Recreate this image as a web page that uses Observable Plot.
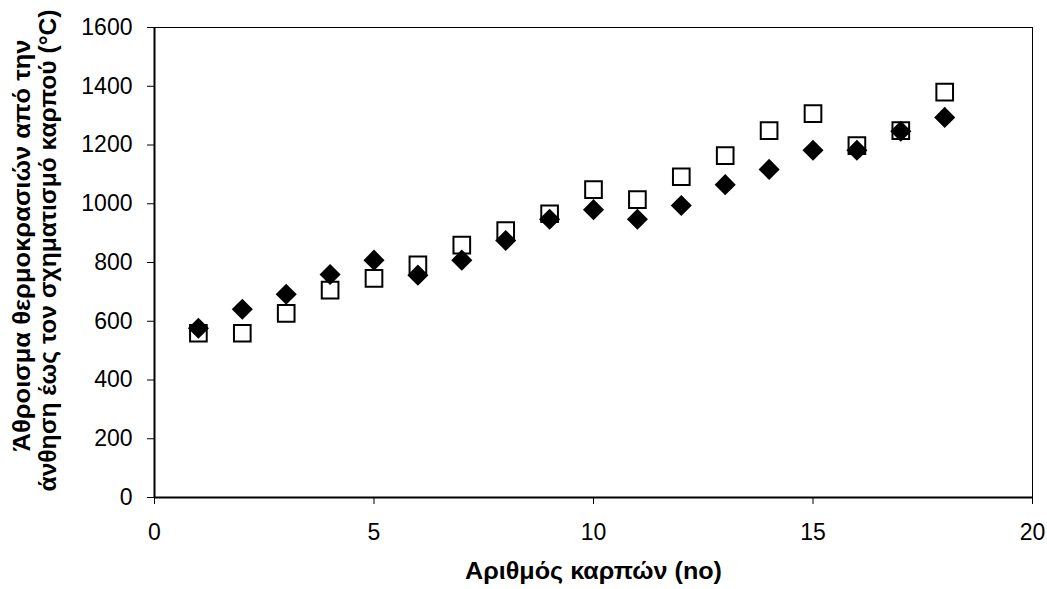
<!DOCTYPE html>
<html><head><meta charset="utf-8">
<script src="https://cdn.jsdelivr.net/npm/d3@7"></script>
<script src="https://cdn.jsdelivr.net/npm/@observablehq/plot@0.6"></script>
<style>body{margin:0;background:#fff} #chart svg{font-family:"Liberation Sans",Arial,sans-serif}</style>
</head><body><div id="chart"></div>
<script>
const fruitNo = [1,2,3,4,5,6,7,8,9,10,11,12,13,14,15,16,17,18];
const seriesSquares = [559,559,627,706,746,792,859,909,966,1048,1014,1092,1164,1249,1307,1198,1249,1380];
const seriesDiamonds = [576,641,692,759,808,757,808,875,947,980,947,994,1065,1117,1182,1182,1247,1294];
const xTicks = [0,5,10,15,20];
const yTicks = [0,200,400,600,800,1000,1200,1400,1600];
const xTitle = "Αριθμός καρπών (no)";
const yTitle1 = "Άθροισμα θερμοκρασιών από την";
const yTitle2 = "άνθηση έως τον σχηματισμό καρπού (°C)";

const squares = fruitNo.map((n, i) => ({n, v: seriesSquares[i]}));
const diamonds = fruitNo.map((n, i) => ({n, v: seriesDiamonds[i]}));

const chart = Plot.plot({
  width: 1047, height: 589,
  marginLeft: 154, marginRight: 15, marginTop: 27, marginBottom: 92,
  style: "font-family: 'Liberation Sans', Arial, sans-serif; font-size: 23px; background: white; color: black;",
  x: {domain: [0, 20]},
  y: {domain: [0, 1600]},
  marks: [
    Plot.frame({stroke: "black", strokeWidth: 1}),
    Plot.axisX({ticks: xTicks, tickFormat: d => String(d), tickSize: 7, tickPadding: 19, label: null, fontSize: 23}),
    Plot.axisY({ticks: yTicks, tickFormat: d => String(d), tickSize: 7, tickPadding: 15, label: null, fontSize: 23}),
    Plot.ruleX([0], {stroke: "black", strokeWidth: 2}),
    Plot.ruleY([0], {stroke: "black", strokeWidth: 2}),
    Plot.dot(squares, {x: "n", y: "v", symbol: "square", r: 9.4, stroke: "black", strokeWidth: 2, fill: "none"}),
    Plot.dot(diamonds, {x: "n", y: "v", symbol: "diamond2", r: 9.5, fill: "black", stroke: "none"}),
    Plot.text([yTitle1], {frameAnchor: "left", textAnchor: "middle", dx: -132, dy: -17, rotate: -90, fontWeight: "bold", fontSize: 24, className: "ytitle1"}),
    Plot.text([yTitle2], {frameAnchor: "left", textAnchor: "middle", dx: -106, dy: -12, rotate: -90, fontWeight: "bold", fontSize: 24, className: "ytitle2"}),
    Plot.text([xTitle], {frameAnchor: "bottom", textAnchor: "middle", dy: 81, fontWeight: "bold", fontSize: 23, className: "xtitle"})
  ]
});
const stretch = (cls, len) => {
  chart.querySelectorAll("." + cls + " text").forEach(t => {
    t.setAttribute("textLength", len);
    t.setAttribute("lengthAdjust", "spacingAndGlyphs");
  });
};
stretch("ytitle1", 412);
stretch("ytitle2", 482);
stretch("xtitle", 257);
document.getElementById("chart").appendChild(chart);
</script>
</body></html>
